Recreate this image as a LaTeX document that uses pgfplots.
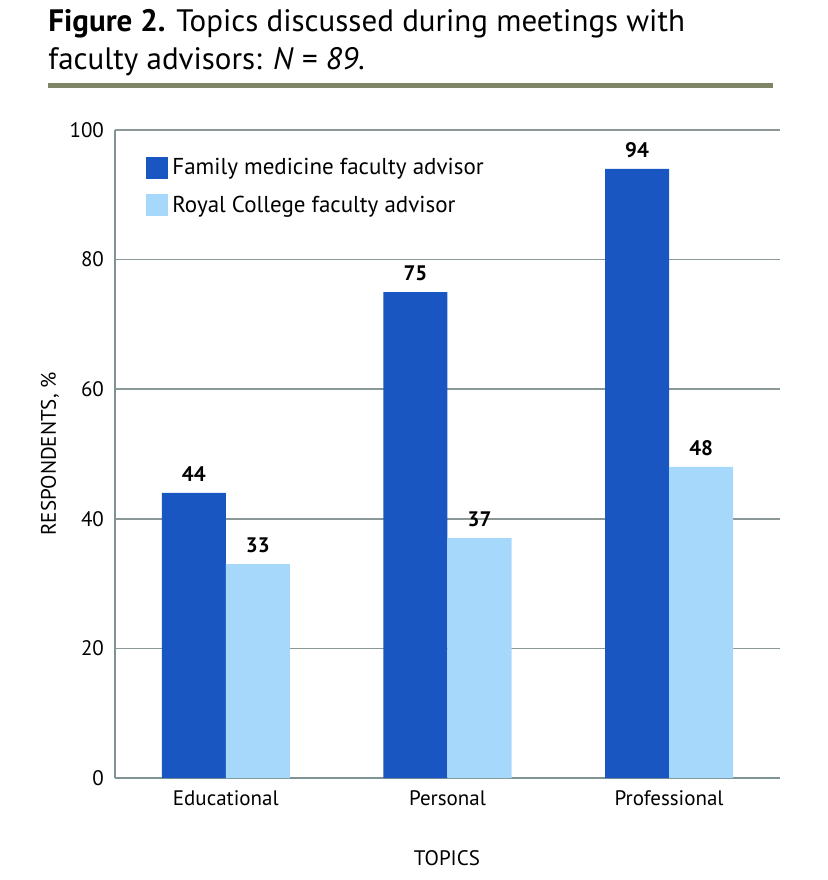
\documentclass[border=0pt]{standalone}
\usepackage{pgfplots}
\pgfplotsset{compat=1.18}
\usepackage{fontspec}
\setmainfont{PT Sans}
\definecolor{darkbar}{HTML}{1A56C2}
\definecolor{lightbar}{HTML}{A6D8FC}
\definecolor{rulecol}{HTML}{7F8668}
\definecolor{axiscol}{HTML}{7E9494}
\definecolor{gridcol}{HTML}{8C9898}
\begin{document}
\begin{tikzpicture}
\useasboundingbox (-57.5pt,-51pt) rectangle (356.5pt,389pt);
\begin{axis}[
  at={(0pt,0pt)}, anchor=south west,
  scale only axis, width=332.5pt, height=324pt,
  ybar=0pt, bar width=0.289,
  xmin=-0.5, xmax=2.5, ymin=0, ymax=100,
  xtick={0,1,2}, xticklabels={Educational,Personal,Professional},
  ytick={0,20,40,60,80,100},
  /pgf/number format/assume math mode=true,
  axis x line*=bottom, axis y line*=left,
  axis line style={axiscol, line width=1.2pt, -},
  major tick length=0pt,
  ymajorgrids, grid style={gridcol, line width=0.8pt},
  tick label style={font=\fontsize{10.5}{12}\selectfont, text=black},
  yticklabel style={xshift=-2pt},
  xticklabel style={yshift=-3pt},
  ylabel={RESPONDENTS, \%}, ylabel style={font=\fontsize{10.5}{12}\selectfont, at={(-32.5pt,162pt)}, anchor=center},
  xlabel={TOPICS}, xlabel style={font=\fontsize{10.5}{12}\selectfont, at={(166pt,-40pt)}, anchor=center},
  nodes near coords,
  nodes near coords style={font=\bfseries\fontsize{10.5}{12}\selectfont, text=black, yshift=2pt},
  legend style={at={(12.5pt,314pt)}, anchor=north west, draw=none, fill=none,
    font=\fontsize{11.5}{13}\selectfont, row sep=5pt, cells={anchor=west}},
  legend image code/.code={\fill[#1, draw=none] (0pt,-5.5pt) rectangle (11pt,5.5pt);},
  clip=false,
]
\addplot[fill=darkbar, draw=none] coordinates {(0,44) (1,75) (2,94)};
\addplot[fill=lightbar, draw=none] coordinates {(0,33) (1,37) (2,48)};
\legend{Family medicine faculty advisor, Royal College faculty advisor}
\end{axis}
\node[anchor=base west, inner sep=0pt, font=\fontsize{15.5}{17}\selectfont] at (-33.5pt,373pt) {\textbf{Figure 2.} Topics discussed during meetings with};
\node[anchor=base west, inner sep=0pt, font=\fontsize{15.5}{17}\selectfont] at (-33.5pt,354pt) {faculty advisors: \textit{N} = \textit{89}.};
\draw[rulecol, line width=2.5pt] (-33.5pt,346pt) -- (329pt,346pt);
\end{tikzpicture}
\end{document}
